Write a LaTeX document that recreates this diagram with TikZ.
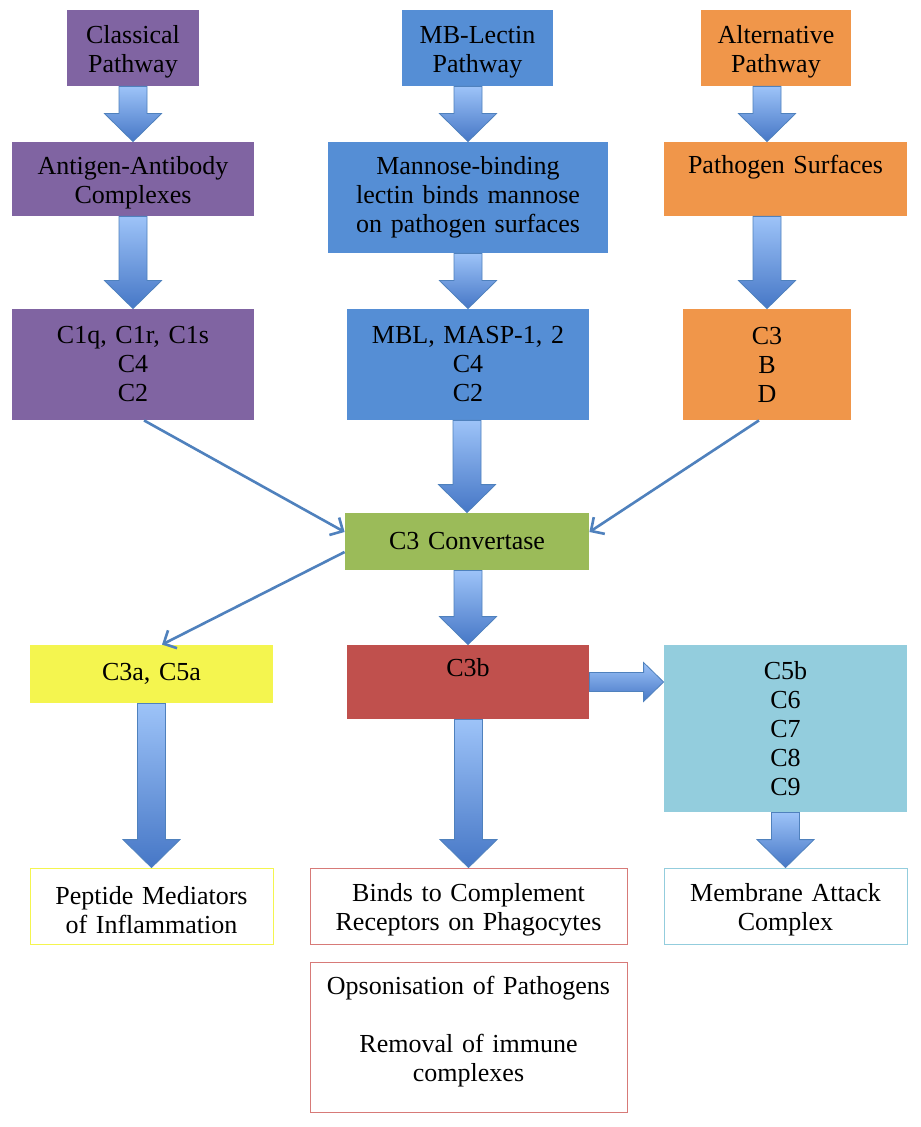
\documentclass[tikz,border=0pt]{standalone}
\usepackage{fontspec}
\setmainfont{Liberation Serif}
\usepackage{tikz}
\usetikzlibrary{arrows.meta}
\usetikzlibrary{calc}
\definecolor{purplebox}{HTML}{8064A2}
\definecolor{bluebox}{HTML}{558ED5}
\definecolor{orangebox}{HTML}{F0964A}
\definecolor{greenbox}{HTML}{9BBB59}
\definecolor{yellowbox}{HTML}{F4F54F}
\definecolor{redbox}{HTML}{C0504D}
\definecolor{cyanbox}{HTML}{93CDDD}
\definecolor{redline}{HTML}{D77A78}
\definecolor{arrowtop}{HTML}{9DC3F8}
\definecolor{arrowbot}{HTML}{4677C6}
\definecolor{arrowline}{HTML}{4F81BD}
\newcommand{\drawfatarrow}[2]{% -- from, to
	\path[fatarrow] let \p1=(#1), \p2=(#2) in
		(\x2-7pt,\y1) -- (\x2-7pt,\y2+14pt) -- (\x2-14.25pt,\y2+14pt) -- (\x2,\y2)
		-- (\x2+14.25pt,\y2+14pt) -- (\x2+7pt,\y2+14pt) -- (\x2+7pt,\y1) -- cycle;
}
\newcommand{\drawfatarrowright}[2]{% -- from, to
	\path[fatarrow] let \p1=(#1), \p2=(#2) in
		(\x1,\y1+4.75pt) -- (\x2-10pt,\y1+4.75pt) -- (\x2-10pt,\y1+9.75pt) -- (\x2,\y1)
		-- (\x2-10pt,\y1-9.75pt) -- (\x2-10pt,\y1-4.75pt) -- (\x1,\y1-4.75pt) -- cycle;
}

\begin{document}
\begin{tikzpicture}[x=0.5pt, y=-0.5pt,
	box/.style 2 args={minimum width=#1, minimum height=#2, text width=#1, inner sep=0pt,
		align=center, font=\fontsize{13}{14.5}\selectfont, text=black},
	lowered/.style={execute at begin node={\rule{0pt}{13pt}}},
	fatarrow/.style={top color=arrowtop, bottom color=arrowbot, draw=arrowline, line width=0.4pt},
	thinarrow/.style={draw=arrowline, line width=1.3pt, -{Straight Barb[length=5pt,width=10pt]}}]

\useasboundingbox[fill=white] (0,0) rectangle (920,1127);

\node[box={66pt}{38pt}, lowered, fill=purplebox] (classical) at (133,48) {Classical\\Pathway};
\node[box={75.5pt}{38pt}, lowered, fill=bluebox] (lectin) at (477.5,48) {MB-Lectin\\Pathway};
\node[box={75pt}{38pt}, lowered, fill=orangebox] (altern) at (776,48) {Alternative\\Pathway};

\node[box={121pt}{37pt}, lowered, fill=purplebox] (antigen) at (133,179) {Antigen-Antibody\\Complexes};
\node[box={140pt}{55.5pt}, fill=bluebox] (mannose) at (468,197.5) {Mannose-binding\\lectin binds mannose\\on pathogen surfaces};
\node[box={121.5pt}{37pt}, lowered, fill=orangebox] (surface) at (785.5,179) {Pathogen Surfaces\\\strut};

\node[box={121pt}{55.5pt}, fill=purplebox] (cone) at (133,364.5) {C1q, C1r, C1s\\C4\\C2};
\node[box={121pt}{55.5pt}, fill=bluebox] (mbl) at (468,364.5) {MBL, MASP-1, 2\\C4\\C2};
\node[box={84pt}{55.5pt}, fill=orangebox] (cbd) at (767,364.5) {C3\\B\\D};

\node[box={122pt}{28.5pt}, fill=greenbox] (convert) at (467,541.5) {C3 Convertase};

\node[box={121.5pt}{29pt}, fill=yellowbox] (cthreea) at (151.5,674) {C3a, C5a};
\node[box={121pt}{37pt}, lowered, fill=redbox] (cthreeb) at (468,682) {C3b\\\strut};
\node[box={121.5pt}{83.5pt}, fill=cyanbox] (cfiveb) at (785.5,728.5) {C5b\\C6\\C7\\C8\\C9};

\node[box={121.5pt}{38pt}, lowered, draw=yellowbox] (peptide) at (151.5,906) {Peptide Mediators\\of Inflammation};
\node[box={158.5pt}{38pt}, lowered, draw=redline] (binds) at (468.5,906) {Binds to Complement\\Receptors on Phagocytes};
\node[box={121.5pt}{38pt}, lowered, draw=cyanbox] (mac) at (785.5,906) {Membrane Attack\\Complex};
\node[box={158.5pt}{75pt}, draw=redline] (opson) at (468.5,1037) {Opsonisation of Pathogens\\\strut\\Removal of immune\\complexes\rule[-8pt]{0pt}{0pt}};

\drawfatarrow{classical.south}{antigen.north}
\drawfatarrow{lectin.south}{mannose.north}
\drawfatarrow{altern.south}{surface.north -| cbd.north}
\drawfatarrow{antigen.south}{cone.north}
\drawfatarrow{mannose.south}{mbl.north}
\drawfatarrow{surface.south}{cbd.north}
\drawfatarrow{mbl.south}{convert.north}
\drawfatarrow{convert.south}{cthreeb.north}
\drawfatarrow{cthreea.south}{peptide.north}
\drawfatarrow{cthreeb.south}{binds.north}
\drawfatarrow{cfiveb.south}{mac.north}
\drawfatarrowright{cthreeb.east}{cthreeb.east -| cfiveb.west}

\draw[thinarrow] ([xshift=5.5pt]cone.south) -- ([yshift=4.75pt]convert.west);
\draw[thinarrow] ([xshift=-4pt]cbd.south) -- ([yshift=4.75pt]convert.east);
\draw[thinarrow] ([yshift=-5.25pt]convert.west) -- ([xshift=5.25pt]cthreea.north);
\end{tikzpicture}
\end{document}
